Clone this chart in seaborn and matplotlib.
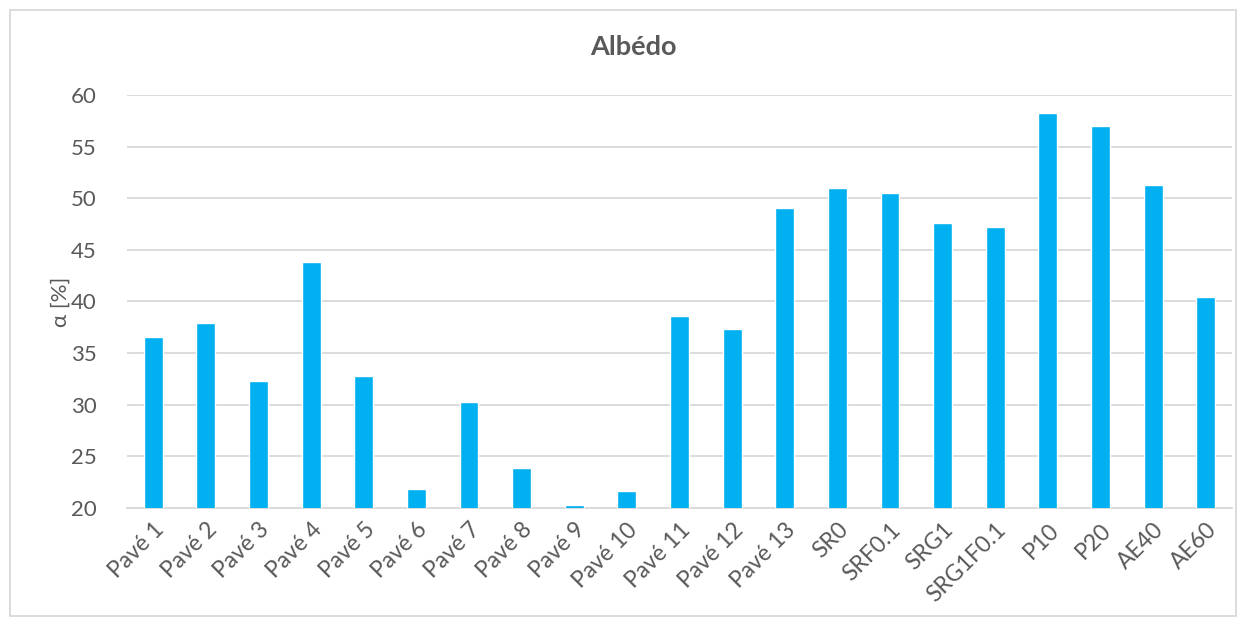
import matplotlib
matplotlib.use("Agg")
import matplotlib.pyplot as plt
import seaborn as sns
import pandas as pd
from matplotlib.patches import Rectangle

categories = ["Pavé 1", "Pavé 2", "Pavé 3", "Pavé 4", "Pavé 5", "Pavé 6", "Pavé 7",
              "Pavé 8", "Pavé 9", "Pavé 10", "Pavé 11", "Pavé 12", "Pavé 13",
              "SR0", "SRF0.1", "SRG1", "SRG1F0.1", "P10", "P20", "AE40", "AE60"]
values = [36.6, 37.9, 32.3, 43.8, 32.8, 21.8, 30.3, 23.9, 20.3, 21.6, 38.6, 37.3,
          49.1, 51.0, 50.5, 47.6, 47.2, 58.3, 57.0, 51.3, 40.4]
yticks = [20, 25, 30, 35, 40, 45, 50, 55, 60]

sns.set_theme(style="white")
plt.rcParams['font.family'] = ['Lato', 'DejaVu Sans']

df = pd.DataFrame({"cat": categories, "val": values})

fig = plt.figure(figsize=(12.46, 6.26), dpi=100)
ax = fig.add_axes([127/1246, 1 - 508/626, (1232-127)/1246, (508-95)/626])

sns.barplot(data=df, x="cat", y="val", color="#00B0F0", saturation=1, width=0.36, ax=ax, zorder=3)

ax.set_ylim(20, 60)
ax.set_yticks(yticks)
ax.set_xlim(-0.5, len(categories) - 0.5)
ax.grid(axis="y", color="#D9D9D9", linewidth=1.3, zorder=0)
ax.set_axisbelow(True)
for s in ["top", "right", "left"]:
    ax.spines[s].set_visible(False)
ax.spines["bottom"].set_color("#D9D9D9")
ax.spines["bottom"].set_linewidth(1.3)

ax.tick_params(axis="y", length=0, pad=22, labelsize=16, labelcolor="#595959")
ax.tick_params(axis="x", length=0, pad=8, labelsize=16.5, labelcolor="#595959")
plt.setp(ax.get_xticklabels(), rotation=45, ha="right", rotation_mode="anchor")
ax.set_xlabel("")
ax.set_ylabel("α [%]", fontsize=16, color="#595959")
ax.yaxis.set_label_coords((71 - 127) / 1105, 0.5)

fig.text(633/1246, 1 - 47/626, "Albédo", ha="center", va="center",
         fontsize=19.5, fontweight="bold", color="#595959")

fig.patches.append(Rectangle((10/1246, 1 - 616/626), (1236-10)/1246, (616-10)/626,
                             transform=fig.transFigure, fill=False,
                             edgecolor="#D9D9D9", linewidth=1.3))

fig.savefig("out.png", dpi=100, facecolor="white")
